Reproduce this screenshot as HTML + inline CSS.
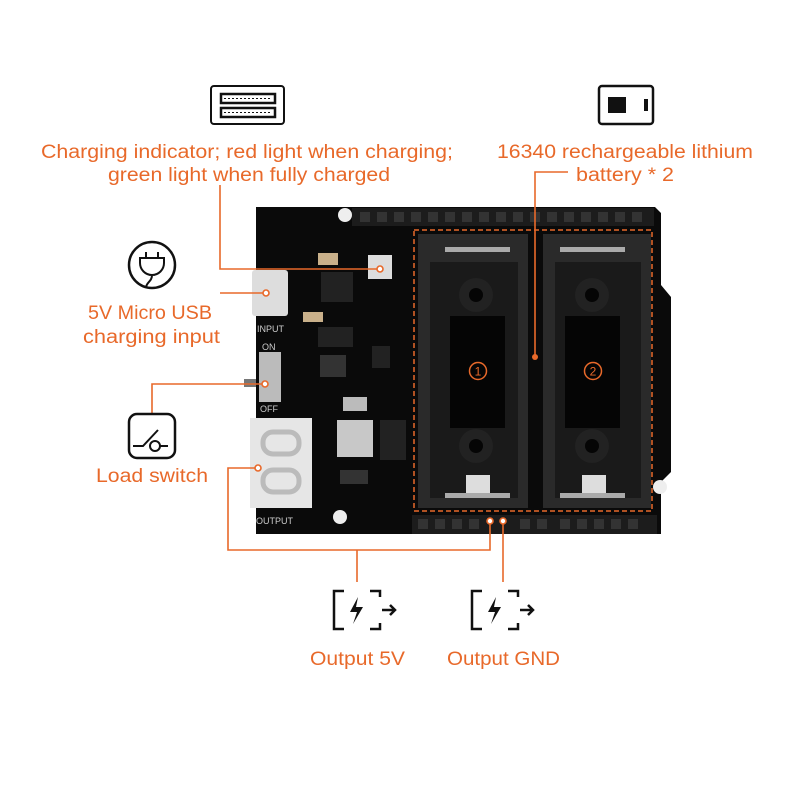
<!DOCTYPE html>
<html><head><meta charset="utf-8"><style>
html,body{margin:0;padding:0;background:#fff;}
svg{display:block}
text{font-family:"Liberation Sans",sans-serif;}
</style></head><body>
<svg width="800" height="800" viewBox="0 0 800 800" xmlns="http://www.w3.org/2000/svg">
<rect width="800" height="800" fill="#fff"/>
<path d="M256,207 L655,207 L661,213 L661,285 L671,297 L671,472 L661,482 L661,534 L256,534 Z" fill="#0a0a0a"/>
<rect x="352" y="208" width="302" height="18" fill="#1c1c1c"/>
<g fill="#333">
<rect x="360" y="212" width="10" height="10"/><rect x="377" y="212" width="10" height="10"/><rect x="394" y="212" width="10" height="10"/><rect x="411" y="212" width="10" height="10"/><rect x="428" y="212" width="10" height="10"/><rect x="445" y="212" width="10" height="10"/><rect x="462" y="212" width="10" height="10"/><rect x="479" y="212" width="10" height="10"/><rect x="496" y="212" width="10" height="10"/><rect x="513" y="212" width="10" height="10"/><rect x="530" y="212" width="10" height="10"/><rect x="547" y="212" width="10" height="10"/><rect x="564" y="212" width="10" height="10"/><rect x="581" y="212" width="10" height="10"/><rect x="598" y="212" width="10" height="10"/><rect x="615" y="212" width="10" height="10"/><rect x="632" y="212" width="10" height="10"/>
</g>
<rect x="412" y="515" width="245" height="19" fill="#1c1c1c"/>
<g fill="#333">
<rect x="418" y="519" width="10" height="10"/><rect x="435" y="519" width="10" height="10"/><rect x="452" y="519" width="10" height="10"/><rect x="469" y="519" width="10" height="10"/><rect x="520" y="519" width="10" height="10"/><rect x="537" y="519" width="10" height="10"/><rect x="560" y="519" width="10" height="10"/><rect x="577" y="519" width="10" height="10"/><rect x="594" y="519" width="10" height="10"/><rect x="611" y="519" width="10" height="10"/><rect x="628" y="519" width="10" height="10"/>
</g>
<circle cx="345" cy="215" r="7" fill="#eee"/><circle cx="340" cy="517" r="7" fill="#eee"/><circle cx="660" cy="487" r="7" fill="#eee"/>
<rect x="418" y="234" width="110" height="274" fill="#2a2a2a"/>
<rect x="543" y="234" width="108" height="274" fill="#2a2a2a"/>
<rect x="430" y="262" width="88" height="236" fill="#1a1a1a"/>
<rect x="555" y="262" width="86" height="236" fill="#1a1a1a"/>
<rect x="450" y="316" width="55" height="112" fill="#050505"/>
<rect x="565" y="316" width="55" height="112" fill="#050505"/>
<circle cx="476" cy="295" r="17" fill="#222"/><circle cx="476" cy="295" r="7" fill="#050505"/>
<circle cx="592" cy="295" r="17" fill="#222"/><circle cx="592" cy="295" r="7" fill="#050505"/>
<circle cx="476" cy="446" r="17" fill="#222"/><circle cx="476" cy="446" r="7" fill="#050505"/>
<circle cx="592" cy="446" r="17" fill="#222"/><circle cx="592" cy="446" r="7" fill="#050505"/>
<rect x="445" y="247" width="65" height="5" fill="#aaa"/><rect x="560" y="247" width="65" height="5" fill="#aaa"/>
<rect x="445" y="493" width="65" height="5" fill="#aaa"/><rect x="560" y="493" width="65" height="5" fill="#aaa"/>
<rect x="466" y="475" width="24" height="18" fill="#ddd"/><rect x="582" y="475" width="24" height="18" fill="#ddd"/>
<rect x="414" y="230" width="238" height="281" fill="none" stroke="#e8692a" stroke-width="1.5" stroke-dasharray="5,3"/>
<circle cx="478" cy="371" r="8.5" fill="none" stroke="#e8692a" stroke-width="1.5"/>
<text x="478" y="375.5" font-size="12" fill="#e8692a" text-anchor="middle">1</text>
<circle cx="593" cy="371" r="8.5" fill="none" stroke="#e8692a" stroke-width="1.5"/>
<text x="593" y="375.5" font-size="12" fill="#e8692a" text-anchor="middle">2</text>
<rect x="252" y="270" width="36" height="46" rx="3" fill="#ddd"/>
<text x="257" y="332" font-size="9" fill="#ccc">INPUT</text>
<text x="262" y="350" font-size="9" fill="#ccc">ON</text>
<rect x="259" y="352" width="22" height="50" fill="#bbb"/>
<text x="260" y="412" font-size="9" fill="#ccc">OFF</text>
<rect x="244" y="379" width="12" height="8" fill="#777"/>
<rect x="250" y="418" width="62" height="90" fill="#e6e6e6"/>
<rect x="263" y="432" width="36" height="22" rx="10" fill="none" stroke="#bbb" stroke-width="5"/>
<rect x="263" y="470" width="36" height="22" rx="10" fill="none" stroke="#bbb" stroke-width="5"/>
<text x="256" y="524" font-size="9" fill="#ccc">OUTPUT</text>
<rect x="321" y="272" width="32" height="30" fill="#222"/>
<rect x="318" y="253" width="20" height="12" fill="#c9b08a"/>
<rect x="368" y="255" width="24" height="24" fill="#ddd"/>
<rect x="318" y="327" width="35" height="20" fill="#222"/>
<rect x="320" y="355" width="26" height="22" fill="#333"/>
<rect x="303" y="312" width="20" height="10" fill="#c9b08a"/>
<rect x="337" y="420" width="36" height="37" fill="#c8c8c8"/>
<rect x="343" y="397" width="24" height="14" fill="#bbb"/>
<rect x="340" y="470" width="28" height="14" fill="#333"/>
<rect x="380" y="420" width="26" height="40" fill="#222"/>
<rect x="372" y="346" width="18" height="22" fill="#222"/>
<g fill="none" stroke="#e8692a" stroke-width="1.6">
<polyline points="220,185 220,269 380,269"/>
<line x1="220" y1="293" x2="263" y2="293"/>
<polyline points="152,413 152,384 262,384"/>
<polyline points="255,468 228,468 228,550 490,550 490,524"/>
<line x1="357" y1="550" x2="357" y2="582"/>
<line x1="503" y1="524" x2="503" y2="582"/>
<polyline points="568,172 535,172 535,355"/>
</g>
<g fill="#fff" stroke="#e8692a" stroke-width="1.6">
<circle cx="380" cy="269" r="3"/><circle cx="266" cy="293" r="3"/><circle cx="265" cy="384" r="3"/><circle cx="258" cy="468" r="3"/><circle cx="490" cy="521" r="3"/><circle cx="503" cy="521" r="3"/>
</g>
<circle cx="535" cy="357" r="3" fill="#e8692a"/>
<g font-size="19" fill="#e8692a" lengthAdjust="spacingAndGlyphs">
<text x="41" y="158" textLength="412" lengthAdjust="spacingAndGlyphs">Charging indicator; red light when charging;</text>
<text x="108" y="181" textLength="282" lengthAdjust="spacingAndGlyphs">green light when fully charged</text>
<text x="497" y="158" textLength="256" lengthAdjust="spacingAndGlyphs">16340 rechargeable lithium</text>
<text x="576" y="181" textLength="98" lengthAdjust="spacingAndGlyphs">battery * 2</text>
<text x="88" y="319" textLength="124" lengthAdjust="spacingAndGlyphs">5V Micro USB</text>
<text x="83" y="343" textLength="137" lengthAdjust="spacingAndGlyphs">charging input</text>
<text x="96" y="482" textLength="112" lengthAdjust="spacingAndGlyphs">Load switch</text>
<text x="310" y="665" textLength="95" lengthAdjust="spacingAndGlyphs">Output 5V</text>
<text x="447" y="665" textLength="113" lengthAdjust="spacingAndGlyphs">Output GND</text>
</g>
<g fill="none" stroke="#111" stroke-width="2">
<rect x="211" y="86" width="73" height="38" rx="3"/>
<rect x="221" y="94" width="54" height="9" stroke-width="2.5"/>
<rect x="221" y="108" width="54" height="9" stroke-width="2.5"/>
<rect x="599" y="86" width="54" height="38" rx="3" stroke-width="2.5"/>
<circle cx="152" cy="265" r="23" stroke-width="2.5"/>
<path d="M140,258 H164 V263 A12,12 0 0 1 140,263 Z M146,252 V258 M158,252 V258 M152,275 C152,282 146,282 146,288"/>
<rect x="129" y="414" width="46" height="44" rx="8" stroke-width="2.5"/>
<path d="M133,446 H143 L158,430 M160,446 H168"/>
<circle cx="155" cy="446" r="5"/>
<path d="M344,591 H334 V629 H344 M370,591 H380 V597 M370,629 H380 V623 M382,610 H395 M390,605 L395,610 L390,615" stroke-width="2.5"/>
<path d="M482,591 H472 V629 H482 M508,591 H518 V597 M508,629 H518 V623 M520,610 H533 M528,605 L533,610 L528,615" stroke-width="2.5"/>
</g>
<g stroke="#111" stroke-width="1" stroke-dasharray="2,2"><line x1="224" y1="98.5" x2="272" y2="98.5"/><line x1="224" y1="112.5" x2="272" y2="112.5"/></g>
<rect x="608" y="97" width="18" height="16" fill="#111"/>
<rect x="644" y="99" width="4" height="12" fill="#111"/>
<path d="M358,597 L350,612 H357 L353,624 L363,607 H356 Z" fill="#111"/>
<path d="M496,597 L488,612 H495 L491,624 L501,607 H494 Z" fill="#111"/>
</svg>
</body></html>
